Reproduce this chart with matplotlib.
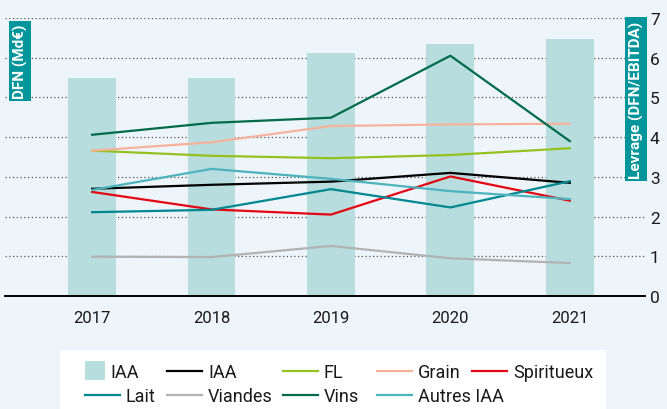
import matplotlib.pyplot as plt
import matplotlib.patches as mpatches
from matplotlib.legend_handler import HandlerPatch
import numpy as np

# ---- data ----
years = ["2017", "2018", "2019", "2020", "2021"]
dfn_iaa = [5.49, 5.48, 6.13, 6.34, 6.47]          # bars (DFN, same grid)
lev_iaa = [2.70, 2.80, 2.88, 3.10, 2.85]
lev_fl = [3.66, 3.53, 3.47, 3.55, 3.72]
lev_grain = [3.66, 3.87, 4.28, 4.32, 4.34]
lev_spiritueux = [2.62, 2.18, 2.05, 3.01, 2.40]
lev_lait = [2.11, 2.17, 2.69, 2.23, 2.89]
lev_viandes = [0.99, 0.98, 1.26, 0.95, 0.83]
lev_vins = [4.06, 4.36, 4.49, 6.05, 3.90]
lev_autres = [2.67, 3.20, 2.95, 2.64, 2.44]
yticks = [0, 1, 2, 3, 4, 5, 6, 7]

BG = "#EDF4FA"
TEAL = "#00959B"

plt.rcParams["font.family"] = ["Roboto", "DejaVu Sans"]

fig = plt.figure(figsize=(6.67, 4.10), dpi=100, facecolor=BG)
ax = fig.add_axes([5 / 667, 1 - 297 / 410, 640 / 667, (297 - 19) / 410])
ax.set_facecolor(BG)

x = np.arange(len(years))
bars = ax.bar(x, dfn_iaa, width=0.40, color="#B8DDDE", zorder=2, label="IAA")
bar_handle = bars.patches[0]

series = [
    (lev_iaa, "#000000", "IAA"),
    (lev_fl, "#95C11F", "FL"),
    (lev_grain, "#F7B29C", "Grain"),
    (lev_spiritueux, "#E30613", "Spiritueux"),
    (lev_lait, "#00878F", "Lait"),
    (lev_viandes, "#B2B2B2", "Viandes"),
    (lev_vins, "#006B4A", "Vins"),
    (lev_autres, "#4DB3BC", "Autres IAA"),
]
lines = {}
for vals, col, name in series:
    (ln,) = ax.plot(x, vals, color=col, lw=1.6, zorder=3, label=name)
    lines[name] = ln

# dotted grid
for t in yticks[1:]:
    ax.axhline(t, color="#555555", lw=0.9, ls=(0, (1, 2)), zorder=1)

ax.set_xlim(-0.73, 4.63)
ax.set_ylim(0, 7)
ax.set_xticks(x)
ax.set_xticklabels(years, fontsize=12, color="#1a1a1a")
ax.set_yticks(yticks)
ax.yaxis.tick_right()
ax.tick_params(axis="y", length=0, pad=3.6, labelsize=12.5, labelcolor="#1a1a1a")
ax.tick_params(axis="x", length=0, pad=10)
for s in ["top", "left", "right"]:
    ax.spines[s].set_visible(False)
ax.spines["bottom"].set_linewidth(1.4)
ax.spines["bottom"].set_color("black")
ax.spines["bottom"].set_zorder(4)

# axis labels in teal boxes
fig.text(20 / 667, 1 - 62 / 410, "DFN (Md€)", rotation=90, ha="center", va="center",
         color="white", fontsize=11, fontweight="bold",
         bbox=dict(boxstyle="square,pad=0.2", fc=TEAL, ec="none"))
fig.text(636 / 667, 1 - 100 / 410, "Levrage (DFN/EBITDA)", rotation=90, ha="center",
         va="center", color="white", fontsize=11, fontweight="bold",
         bbox=dict(boxstyle="square,pad=0.2", fc=TEAL, ec="none"))

# legend: white panel + one small legend per slot
fig.patches.append(mpatches.Rectangle((60 / 667, 0), 546 / 667, 59 / 410,
                                      transform=fig.transFigure, fc="white", ec="none",
                                      zorder=1))


def square_patch(legend, orig_handle, xdescent, ydescent, width, height, fontsize):
    return mpatches.Rectangle((-xdescent, -ydescent - (14 - height) / 2), width, 14)


ROW1, ROW2 = 373, 397
slots = [
    (85, ROW1, bar_handle, "IAA", 1.1),
    (85, ROW2, lines["Lait"], "Lait", 1.94),
    (167, ROW1, lines["IAA"], "IAA", 1.94),
    (167, ROW2, lines["Viandes"], "Viandes", 1.94),
    (283, ROW1, lines["FL"], "FL", 1.94),
    (283, ROW2, lines["Vins"], "Vins", 1.94),
    (377, ROW1, lines["Grain"], "Grain", 1.94),
    (377, ROW2, lines["Autres IAA"], "Autres IAA", 1.94),
    (472, ROW1, lines["Spiritueux"], "Spiritueux", 1.94),
]
for cx, cy, h, lab, hl in slots:
    leg = fig.legend([h], [lab], loc="center left",
                     bbox_to_anchor=(cx / 667, 1 - cy / 410), frameon=False,
                     fontsize=13, borderpad=0, borderaxespad=0,
                     handlelength=hl, handletextpad=0.33,
                     handler_map={bar_handle: HandlerPatch(patch_func=square_patch)})
    for t in leg.get_texts():
        t.set_color("#1a1a1a")

fig.savefig("out.png", dpi=100, facecolor=BG)
